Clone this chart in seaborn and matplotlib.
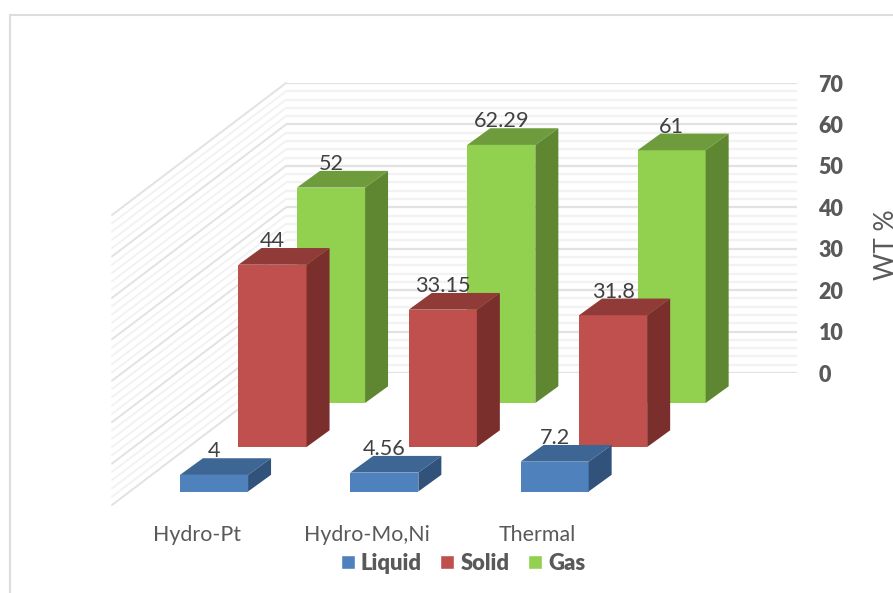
import matplotlib
matplotlib.use("Agg")
import matplotlib.pyplot as plt
import pandas as pd
import seaborn as sns
from matplotlib.lines import Line2D
from matplotlib.patches import Patch, Polygon
from matplotlib.ticker import MultipleLocator
from matplotlib.transforms import Affine2D

# Chart data
processes = ["Hydro-Pt", "Hydro-Mo,Ni", "Thermal"]
liquid = [4, 4.56, 7.2]
solid = [44, 33.15, 31.8]
gas = [52, 62.29, 61]

# Drawing order runs from the back row to the front row
series_names = ["Gas", "Solid", "Liquid"]
series_values = [gas, solid, liquid]
front_colors = {"Liquid": "#4F81BD", "Solid": "#C0504D", "Gas": "#92D050"}
top_colors = {"Liquid": "#3D6695", "Solid": "#913B39", "Gas": "#6E9C3C"}
side_colors = {"Liquid": "#31527A", "Solid": "#7A2F2D", "Gas": "#5F8631"}

W, H = 893, 593
PX_PER_CATEGORY = 170.3
PX_PER_VALUE = 290 / 70
TEXT = "#595959"
LABEL = "#404040"

sns.set_theme(style="white")
plt.rcParams["font.family"] = ["Lato", "DejaVu Sans"]

fig = plt.figure(figsize=(W / 100, H / 100), dpi=100, facecolor="white")
ax = fig.add_axes([286 / W, (H - 373) / H, 511 / W, 290 / H])
ax.patch.set_alpha(0)

# Oblique projection: screen offsets for each row and for the bar depth
row_offset = {"Gas": (0, -30), "Solid": (-58.5, -74), "Liquid": (-117, -118.5)}
bar_depth_x = 23 / PX_PER_CATEGORY
bar_depth_y = 16.7 / PX_PER_VALUE
wall_dx = 174 / PX_PER_CATEGORY
wall_dy = 132 / PX_PER_VALUE
positions = list(range(len(processes)))
x_left = -45 / PX_PER_CATEGORY

for name, values in zip(series_names, series_values):
    frame = pd.DataFrame({"position": positions, "value": values})
    before = len(ax.containers)
    sns.barplot(data=frame, x="position", y="value", native_scale=True, orient="x",
                width=0.4, color=front_colors[name], saturation=1, ax=ax,
                zorder=5 + series_names.index(name))
    bars = ax.containers[before]
    shift = ax.transData + Affine2D().translate(*row_offset[name])
    z = 5 + series_names.index(name)
    for bar, value in zip(bars, values):
        x0, x1 = bar.get_x(), bar.get_x() + bar.get_width()
        y1 = bar.get_height()
        bar.set_transform(shift)
        bar.set_clip_on(False)
        bar.set_linewidth(0)
        top = [(x0, y1), (x1, y1), (x1 + bar_depth_x, y1 + bar_depth_y),
               (x0 + bar_depth_x, y1 + bar_depth_y)]
        side = [(x1, 0), (x1 + bar_depth_x, bar_depth_y),
                (x1 + bar_depth_x, y1 + bar_depth_y), (x1, y1)]
        ax.add_patch(Polygon(top, closed=True, fc=top_colors[name], ec="none",
                             transform=shift, clip_on=False, zorder=z))
        ax.add_patch(Polygon(side, closed=True, fc=side_colors[name], ec="none",
                             transform=shift, clip_on=False, zorder=z))
        ax.text((x0 + x1) / 2, y1 + bar_depth_y + 0.2, f"{value:g}", transform=shift,
                ha="center", va="baseline", fontsize=15.6, color=LABEL, zorder=12)

# Value axis on the right with gridlines across the back wall
ax.set_xlim(x_left, x_left + 511 / PX_PER_CATEGORY)
ax.set_ylim(0, 70)
ax.yaxis.tick_right()
ax.yaxis.set_major_locator(MultipleLocator(10))
ax.yaxis.set_minor_locator(MultipleLocator(2))
ax.set_axisbelow(True)
ax.grid(False, axis="x")
ax.grid(True, axis="y", which="major", color="#E2E2E2", linewidth=1.6)
ax.grid(True, axis="y", which="minor", color="#F2F2F2", linewidth=1.6)
ax.tick_params(axis="y", which="both", length=0, pad=15.5, labelsize=15.5, labelcolor=TEXT)
ax.tick_params(axis="x", length=0, labelbottom=False)
for tick in ax.get_yticklabels():
    tick.set_fontweight("heavy")
ax.set_xlabel("")
ax.set_ylabel("")
for spine in ax.spines.values():
    spine.set_visible(False)

# Side wall gridlines running towards the viewer
for level in range(0, 71, 2):
    major = level % 10 == 0
    ax.plot([x_left, x_left - wall_dx], [level, level - wall_dy], clip_on=False,
            color="#E2E2E2" if major else "#F2F2F2", linewidth=1.4, zorder=1)

# Category names along the front edge
label_shift = ax.transData + Affine2D().translate(*row_offset["Liquid"]) + Affine2D().translate(-17, 0)
for pos, process in zip(positions, processes):
    ax.text(pos, 0, process, transform=label_shift + Affine2D().translate(0, -49.5),
            ha="center", va="baseline", fontsize=15.4, color=TEXT, clip_on=False)

fig.text(887 / W, (H - 245) / H, "WT %", rotation=90, ha="center", va="center",
         fontsize=19, color=TEXT)

handles = [Patch(facecolor=front_colors[n], label=n) for n in ["Liquid", "Solid", "Gas"]]
fig.legend(handles=handles, loc="center", bbox_to_anchor=(463 / W, (H - 563) / H), ncol=3,
           frameon=False, handlelength=0.64, handleheight=0.64, handletextpad=0.27,
           columnspacing=0.86, borderpad=0, prop={"size": 15.8, "weight": "heavy"},
           labelcolor=TEXT)

# Chart frame, open on the sides that run off the canvas
frame_color = "#DDDDDD"
fig.add_artist(Line2D([10 / W, 1], [(H - 14.5) / H] * 2, color=frame_color, linewidth=1.5))
fig.add_artist(Line2D([10 / W] * 2, [(H - 14.5) / H, 0], color=frame_color, linewidth=1.5))

fig.savefig("out.png", dpi=100)
